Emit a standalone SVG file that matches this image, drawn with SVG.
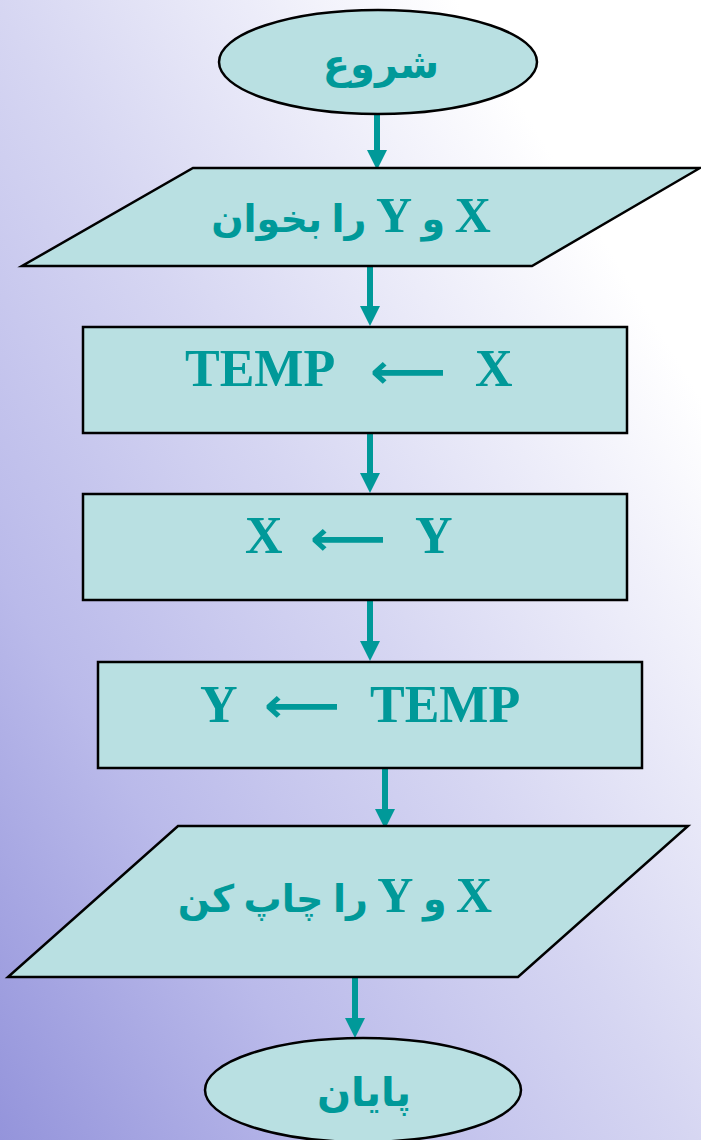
<svg xmlns="http://www.w3.org/2000/svg" width="701" height="1140" viewBox="0 0 701 1140">
<defs>
<linearGradient id="bg" gradientUnits="userSpaceOnUse" x1="0" y1="1140" x2="840" y2="624">
<stop offset="0" stop-color="#9494DB"/>
<stop offset="0.3" stop-color="#BABAEA"/>
<stop offset="0.6" stop-color="#D6D6F2"/>
<stop offset="1" stop-color="#FFFFFF"/>
</linearGradient>
<marker id="ah" markerUnits="userSpaceOnUse" markerWidth="22" markerHeight="20" refX="0" refY="10" orient="auto" viewBox="0 0 20 20">
<path d="M0,0 L20,10 L0,20 Z" fill="#009999"/>
</marker>
<style>
.shape{fill:#B9E0E2;stroke:#000;stroke-width:2.5}
.lbl{font-family:"Liberation Serif","DejaVu Sans",serif;font-weight:bold;fill:#009999}
.arr{font-family:"DejaVu Sans",sans-serif;font-weight:bold;fill:#009999;font-size:48px}
.ar{font-family:"Liberation Serif","DejaVu Sans","Noto Sans",sans-serif;font-weight:bold;fill:#009999;direction:rtl}
.lat{font-size:50px}
.conn{stroke:#009999;stroke-width:6;fill:none}
</style>
</defs>
<rect width="701" height="1140" fill="url(#bg)"/>
<g id="connectors">
<line class="conn" x1="377" y1="114" x2="377" y2="150" marker-end="url(#ah)"/>
<line class="conn" x1="370" y1="266" x2="370" y2="306" marker-end="url(#ah)"/>
<line class="conn" x1="370" y1="433" x2="370" y2="473" marker-end="url(#ah)"/>
<line class="conn" x1="370" y1="600" x2="370" y2="641" marker-end="url(#ah)"/>
<line class="conn" x1="385" y1="768" x2="385" y2="809" marker-end="url(#ah)"/>
<line class="conn" x1="355" y1="977" x2="355" y2="1018" marker-end="url(#ah)"/>
</g>
<g id="start">
<ellipse class="shape" cx="378" cy="62" rx="159" ry="52"/>
<text class="ar" x="381" y="78" font-size="40" text-anchor="middle">شروع</text>
</g>
<g id="read">
<polygon class="shape" points="193,168 700,168 532,266 22,266"/>
<text class="ar" x="351" y="232" font-size="38" text-anchor="middle"><tspan class="lat">X</tspan> و <tspan class="lat">Y</tspan> را بخوان</text>
</g>
<g id="step1">
<rect class="shape" x="83" y="327" width="544" height="106"/>
<text class="lbl" y="386" font-size="52"><tspan x="185">TEMP</tspan><tspan x="475">X</tspan></text>
<text class="arr" x="408" y="388" text-anchor="middle" textLength="76" lengthAdjust="spacingAndGlyphs">⟵</text>
</g>
<g id="step2">
<rect class="shape" x="83" y="494" width="544" height="106"/>
<text class="lbl" y="553" font-size="52"><tspan x="245">X</tspan><tspan x="415">Y</tspan></text>
<text class="arr" x="348" y="555" text-anchor="middle" textLength="76" lengthAdjust="spacingAndGlyphs">⟵</text>
</g>
<g id="step3">
<rect class="shape" x="98" y="662" width="544" height="106"/>
<text class="lbl" y="722" font-size="52"><tspan x="200">Y</tspan><tspan x="370">TEMP</tspan></text>
<text class="arr" x="302" y="722" text-anchor="middle" textLength="76" lengthAdjust="spacingAndGlyphs">⟵</text>
</g>
<g id="print">
<polygon class="shape" points="178,826 688,826 518,977 8,977"/>
<text class="ar" x="335" y="912" font-size="38" text-anchor="middle"><tspan class="lat">X</tspan> و <tspan class="lat">Y</tspan> را چاپ کن</text>
</g>
<g id="end">
<ellipse class="shape" cx="363" cy="1090" rx="158" ry="52"/>
<text class="ar" x="364" y="1106" font-size="40" text-anchor="middle">پایان</text>
</g>
</svg>
